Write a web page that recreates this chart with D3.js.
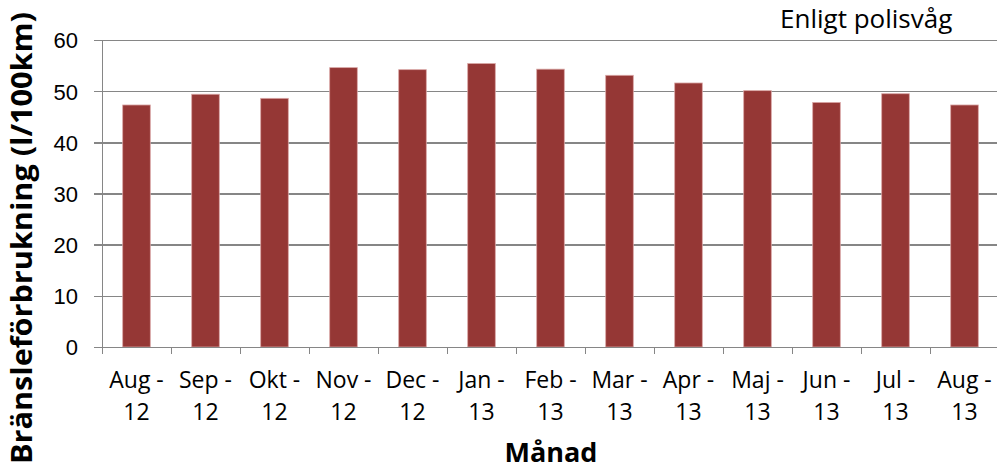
<!DOCTYPE html>
<html>
<head>
<meta charset="utf-8">
<script src="https://cdn.jsdelivr.net/npm/d3@7"></script>
<style>
  body { margin: 0; background: #fff; }
  svg { display: block; font-family: 'Open Sans', sans-serif; }
  .axis path, .axis line { stroke: #868686; stroke-width: 1.5; shape-rendering: crispEdges; }
  .grid line { stroke: #868686; stroke-width: 1.5; shape-rendering: crispEdges; }
  .grid path { display: none; }
</style>
</head>
<body>
<svg id="chart"></svg>
<script>
'use strict';

// chart values
var categories = ['Aug - 12', 'Sep - 12', 'Okt - 12', 'Nov - 12', 'Dec - 12', 'Jan - 13', 'Feb - 13',
  'Mar - 13', 'Apr - 13', 'Maj - 13', 'Jun - 13', 'Jul - 13', 'Aug - 13'];
var values = [47.3, 49.4, 48.6, 54.6, 54.2, 55.4, 54.3, 53.1, 51.6, 50.1, 47.8, 49.5, 47.3];
var yTicks = [0, 10, 20, 30, 40, 50, 60];

var W = 997, H = 470,
  margin = { top: 40, right: -2, bottom: 123, left: 102 },
  width = W - margin.left - margin.right,
  height = H - margin.top - margin.bottom;

var svg = d3.select('#chart')
  .attr('width', W)
  .attr('height', H);

var g = svg.append('g')
  .attr('transform', 'translate(' + margin.left + ',' + margin.top + ')');

// set the ranges
var x = d3.scaleBand()
  .domain(categories)
  .range([0, width])
  .paddingInner(0.6)
  .paddingOuter(0.3);
var xEdge = d3.scaleLinear()
  .domain([0, categories.length])
  .range([0, width]);
var y = d3.scaleLinear()
  .domain([0, 60])
  .range([height, 0]);

// horizontal gridlines
g.append('g')
  .attr('class', 'grid')
  .call(d3.axisLeft(y).tickValues(yTicks.slice(1)).tickSize(-width).tickFormat(''));

// bars
g.selectAll('.bar')
  .data(values)
  .enter().append('rect')
  .attr('class', 'bar')
  .attr('fill', '#953735')
  .attr('stroke', '#d9a6a5')
  .attr('stroke-width', 0.8)
  .attr('x', function (d, i) { return x(categories[i]); })
  .attr('width', x.bandwidth())
  .attr('y', function (d) { return y(d); })
  .attr('height', function (d) { return height - y(d); });

// y axis
var yAxis = g.append('g')
  .attr('class', 'axis')
  .call(d3.axisLeft(y).tickValues(yTicks).tickSize(8).tickSizeOuter(0).tickPadding(16));
yAxis.selectAll('text')
  .style('font-size', '22px')
  .attr('fill', '#000')
  .attr('dy', '0.36em');

// x axis, ticks between the categories
g.append('g')
  .attr('class', 'axis')
  .attr('transform', 'translate(0,' + height + ')')
  .call(d3.axisBottom(xEdge).tickValues(d3.range(categories.length + 1)).tickSize(7).tickSizeOuter(0).tickFormat(''));

// two line category labels
var labels = g.selectAll('.xlab')
  .data(categories)
  .enter().append('text')
  .attr('class', 'xlab')
  .attr('text-anchor', 'middle')
  .style('font-size', '23px')
  .attr('fill', '#000');
labels.append('tspan')
  .attr('x', function (d) { return x(d) + x.bandwidth() / 2; })
  .attr('y', height + 41)
  .text(function (d) { return d.slice(0, d.lastIndexOf(' ')); });
labels.append('tspan')
  .attr('x', function (d) { return x(d) + x.bandwidth() / 2; })
  .attr('y', height + 73)
  .text(function (d) { return d.slice(d.lastIndexOf(' ') + 1); });

// axis titles
svg.append('text')
  .attr('x', 551)
  .attr('y', 462)
  .attr('text-anchor', 'middle')
  .style('font-size', '27px')
  .style('font-weight', 'bold')
  .text('Månad');

svg.append('text')
  .attr('transform', 'translate(32,238) rotate(-90)')
  .attr('text-anchor', 'middle')
  .style('font-size', '28px')
  .style('font-weight', 'bold')
  .attr('textLength', 452)
  .attr('lengthAdjust', 'spacingAndGlyphs')
  .text('Bränsleförbrukning (l/100km)');

svg.append('text')
  .attr('x', 780)
  .attr('y', 28)
  .style('font-size', '26px')
  .text('Enligt polisvåg');
</script>
</body>
</html>
